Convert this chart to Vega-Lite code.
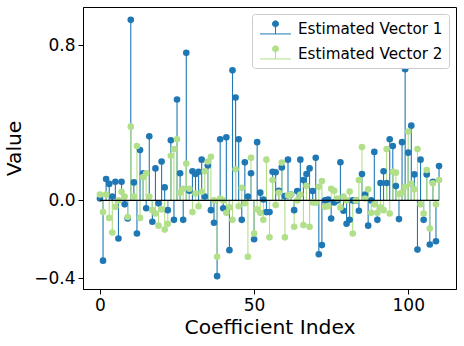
{
  "$schema": "https://vega.github.io/schema/vega-lite/v6.json",
  "width": 373,
  "height": 282,
  "autosize": {"type": "none"},
  "padding": {"left": 83, "top": 7, "right": 8, "bottom": 57},
  "config": {
    "font": "DejaVu Sans",
    "view": {"stroke": "black", "strokeWidth": 1},
    "axis": {"grid": false, "domainColor": "black", "tickColor": "black", "tickSize": 5, "labelColor": "black", "titleColor": "black", "labelFontSize": 17, "titleFontSize": 20.3, "titleFontWeight": "normal", "labelFont": "DejaVu Sans", "titleFont": "DejaVu Sans", "labelPadding": 3}
  },
  "data": {"values": [
    {"i":0,"a":0.01,"b":0.03},{"i":1,"a":-0.31,"b":-0.06},{"i":2,"a":0.11,"b":0.03},{"i":3,"a":0.085,"b":-0.09},{"i":4,"a":0.02,"b":-0.165},
    {"i":5,"a":0.096,"b":-0.033},{"i":6,"a":-0.196,"b":0.0},{"i":7,"a":0.096,"b":0.045},{"i":8,"a":-0.02,"b":0.02},{"i":9,"a":-0.093,"b":-0.085},
    {"i":10,"a":0.93,"b":0.38},{"i":11,"a":0.093,"b":0.02},{"i":12,"a":-0.17,"b":0.28},{"i":13,"a":0.26,"b":-0.09},{"i":14,"a":0.14,"b":0.12},
    {"i":15,"a":-0.04,"b":0.14},{"i":16,"a":0.33,"b":0.02},{"i":17,"a":-0.11,"b":-0.05},{"i":18,"a":0.165,"b":-0.067},{"i":19,"a":-0.015,"b":-0.13},
    {"i":20,"a":0.2,"b":-0.046},{"i":21,"a":0.067,"b":-0.15},{"i":22,"a":-0.05,"b":-0.12},{"i":23,"a":0.31,"b":0.23},{"i":24,"a":-0.1,"b":0.265},
    {"i":25,"a":0.52,"b":0.315},{"i":26,"a":0.14,"b":0.04},{"i":27,"a":-0.1,"b":0.06},{"i":28,"a":0.76,"b":0.19},{"i":29,"a":0.05,"b":0.06},
    {"i":30,"a":0.15,"b":-0.06},{"i":31,"a":0.136,"b":0.036},{"i":32,"a":0.148,"b":-0.03},{"i":33,"a":0.21,"b":0.045},{"i":34,"a":0.02,"b":0.15},
    {"i":35,"a":0.18,"b":0.2},{"i":36,"a":-0.05,"b":0.225},{"i":37,"a":-0.115,"b":0.0},{"i":38,"a":-0.39,"b":-0.29},{"i":39,"a":0.315,"b":0.01},
    {"i":40,"a":-0.04,"b":0.0},{"i":41,"a":0.325,"b":-0.064},{"i":42,"a":-0.256,"b":-0.036},{"i":43,"a":0.67,"b":-0.1},{"i":44,"a":0.53,"b":0.16},
    {"i":45,"a":0.315,"b":-0.03},{"i":46,"a":-0.1,"b":0.065},{"i":47,"a":0.196,"b":-0.015},{"i":48,"a":0.02,"b":-0.29},{"i":49,"a":0.14,"b":0.22},
    {"i":50,"a":-0.2,"b":-0.17},{"i":51,"a":0.3,"b":-0.046},{"i":52,"a":0.04,"b":-0.064},{"i":53,"a":0.005,"b":-0.1},{"i":54,"a":-0.06,"b":0.21},
    {"i":55,"a":-0.06,"b":-0.19},{"i":56,"a":0.148,"b":0.105},{"i":57,"a":0.145,"b":-0.024},{"i":58,"a":0.05,"b":0.04},{"i":59,"a":0.17,"b":0.195},
    {"i":60,"a":0.022,"b":-0.19},{"i":61,"a":0.21,"b":0.026},{"i":62,"a":0.03,"b":0.03},{"i":63,"a":-0.05,"b":-0.136},{"i":64,"a":0.048,"b":0.0},
    {"i":65,"a":0.21,"b":0.03},{"i":66,"a":0.105,"b":-0.127},{"i":67,"a":0.136,"b":0.075},{"i":68,"a":0.165,"b":-0.136},{"i":69,"a":0.048,"b":-0.01},
    {"i":70,"a":0.22,"b":-0.012},{"i":71,"a":-0.277,"b":0.07},{"i":72,"a":-0.23,"b":0.1},{"i":73,"a":0.0,"b":-0.033},{"i":74,"a":0.005,"b":-0.03},
    {"i":75,"a":-0.093,"b":0.06},{"i":76,"a":-0.01,"b":0.05},{"i":77,"a":0.0,"b":0.01},{"i":78,"a":0.196,"b":-0.036},{"i":79,"a":-0.053,"b":0.02},
    {"i":80,"a":-0.12,"b":0.0},{"i":81,"a":-0.1,"b":0.046},{"i":82,"a":0.0,"b":-0.17},{"i":83,"a":0.0,"b":0.0},{"i":84,"a":-0.053,"b":0.105},
    {"i":85,"a":0.136,"b":0.275},{"i":86,"a":0.03,"b":0.01},{"i":87,"a":-0.13,"b":0.057},{"i":88,"a":0.0,"b":-0.064},{"i":89,"a":0.25,"b":-0.02},
    {"i":90,"a":-0.1,"b":-0.064},{"i":91,"a":0.09,"b":-0.036},{"i":92,"a":0.15,"b":-0.05},{"i":93,"a":0.09,"b":0.265},{"i":94,"a":0.315,"b":-0.067},
    {"i":95,"a":0.28,"b":0.148},{"i":96,"a":0.074,"b":0.143},{"i":97,"a":-0.096,"b":0.033},{"i":98,"a":0.3,"b":0.04},{"i":99,"a":0.676,"b":0.07},
    {"i":100,"a":0.246,"b":0.355},{"i":101,"a":0.385,"b":0.085},{"i":102,"a":0.134,"b":0.057},{"i":103,"a":-0.253,"b":0.265},{"i":104,"a":0.21,"b":-0.02},
    {"i":105,"a":-0.1,"b":-0.067},{"i":106,"a":0.134,"b":0.157},{"i":107,"a":-0.227,"b":-0.145},{"i":108,"a":0.096,"b":0.088},{"i":109,"a":-0.21,"b":-0.02},
    {"i":110,"a":0.177,"b":0.105}
  ]},
  "transform": [{"fold": ["a", "b"], "as": ["s", "v"]}],
  "layer": [
    {
      "mark": {"type": "rule", "strokeWidth": 1.1},
      "encoding": {
        "x": {"field": "i", "type": "quantitative", "scale": {"domain": [-5.5, 115.5], "nice": false, "zero": false}, "axis": {"values": [0, 50, 100], "title": "Coefficient Index", "titlePadding": 4}},
        "y": {"field": "v", "type": "quantitative", "scale": {"domain": [-0.456, 0.996], "nice": false, "zero": false}, "axis": {"values": [-0.4, 0, 0.8], "format": ".1f", "title": "Value", "titlePadding": 9}},
        "y2": {"datum": 0},
        "color": {"field": "s", "type": "nominal", "scale": {"domain": ["a", "b"], "range": ["#1f78b4", "#b2df8a"]}},
        "order": {"field": "s"}
      }
    },
    {
      "mark": {"type": "point", "filled": true, "size": 44, "opacity": 1},
      "encoding": {
        "x": {"field": "i", "type": "quantitative"},
        "y": {"field": "v", "type": "quantitative"},
        "color": {"field": "s", "type": "nominal", "legend": {
          "title": null, "orient": "top-right", "offset": 7,
          "labelExpr": "datum.label == 'a' ? 'Estimated Vector 1' : 'Estimated Vector 2'",
          "labelFontSize": 15.2, "labelColor": "black", "labelFont": "DejaVu Sans",
          "symbolType": "M-2,0.7H2M0,0.7V-0.6M0.39,-0.6A0.39,0.39,0,1,1,-0.39,-0.6A0.39,0.39,0,1,1,0.39,-0.6Z",
          "symbolSize": 240, "symbolStrokeWidth": 1, "symbolOffset": 9, "labelOffset": 14,
          "fillColor": "white", "strokeColor": "#cccccc", "cornerRadius": 3, "padding": 6, "rowPadding": 6
        }},
        "order": {"field": "s"}
      }
    },
    {
      "transform": [{"aggregate": [{"op": "min", "field": "i", "as": "i0"}, {"op": "max", "field": "i", "as": "i1"}]}],
      "mark": {"type": "rule", "color": "black", "strokeWidth": 1.2},
      "encoding": {
        "x": {"field": "i0", "type": "quantitative"},
        "x2": {"field": "i1"},
        "y": {"datum": 0, "type": "quantitative"}
      }
    }
  ]
}
